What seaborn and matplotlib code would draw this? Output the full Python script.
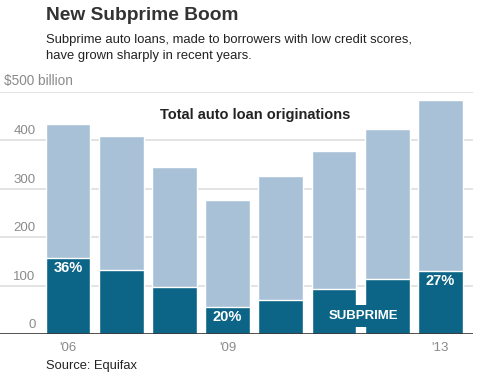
import matplotlib
matplotlib.use('Agg')

import pandas as pd
import matplotlib.pyplot as plt
import seaborn as sns

years = ['2006', '2007', '2008', '2009', '2010', '2011', '2012', '2013']
total = [434, 409, 344, 276, 327, 377, 424, 482]
subprime = [157, 133, 96, 56, 70, 92, 113, 130]
pct_labels = {0: '36%', 3: '20%', 7: '27%'}
xtick_labels = {0: "'06", 3: "'09", 7: "'13"}
yticks = [0, 100, 200, 300, 400]

light = '#a9c1d6'
dark = '#0c6586'
grey = '#8a8a8a'

df = pd.DataFrame({'year': years, 'total': total, 'subprime': subprime})

sns.set_style('white')
plt.rcParams['font.family'] = ['Liberation Sans', 'DejaVu Sans']

fig = plt.figure(figsize=(4.8, 3.79), dpi=100)
ax = fig.add_axes([0, 1 - 334 / 379, 473 / 480, (334 - 91.7) / 379])

sns.barplot(data=df, x='year', y='total', color=light, width=0.84,
            saturation=1, ax=ax, zorder=2)
sns.barplot(data=df, x='year', y='subprime', color=dark, width=0.84,
            saturation=1, ax=ax, zorder=3)

ax.set_xlim(-68 / 53.2, (473 - 68) / 53.2)
ax.set_ylim(0, 500)
for s in ax.spines.values():
    s.set_visible(False)
ax.set_xlabel('')
ax.set_ylabel('')
ax.set_xticks([])
ax.set_yticks([])

for v in yticks[1:] + [500]:
    ax.axhline(v, color='#dedede', lw=1.2, zorder=1)
ax.axhline(0, color='#333333', lw=1.2, zorder=4)

# y labels sit inside the plot, above their gridline
for v in yticks:
    ax.annotate(str(v), xy=(0, v), xycoords=('axes fraction', 'data'),
                xytext=(25.5, 2), textcoords='offset points',
                ha='right', va='bottom', fontsize=9.5, color=grey)

for i, lab in xtick_labels.items():
    ax.annotate(lab, xy=(i, 0), xycoords='data', xytext=(0, -5.5),
                textcoords='offset points', ha='center', va='top',
                fontsize=9.5, color=grey)

for i, lab in pct_labels.items():
    ax.annotate(lab, xy=(i, subprime[i]), xytext=(0, -7.5),
                textcoords='offset points', ha='center', va='center',
                fontsize=10.5, color='white', fontweight='bold', zorder=5)

ax.text(5.555, 37, 'SUBPRIME', ha='center', va='center', fontsize=9.5,
        color='white', fontweight='bold', zorder=6,
        bbox=dict(boxstyle='square,pad=0.4', fc=dark, ec='none'))

ax.text(3.52, 452, 'Total auto loan originations', ha='center', va='center',
        fontsize=10.5, fontweight='bold', color='#222222', zorder=6)

fig.text(4 / 480, 1 - 81 / 379, '$500 billion', ha='left', va='center',
         fontsize=9.8, color=grey)
fig.text(46 / 480, 1 - 16 / 379, 'New Subprime Boom', ha='left', va='center',
         fontsize=13.8, fontweight='bold', color='#333333')
fig.text(46 / 480, 1 - 48 / 379,
         'Subprime auto loans, made to borrowers with low credit scores,\n'
         'have grown sharply in recent years.',
         ha='left', va='center', fontsize=9.4, color='#222222', linespacing=1.4)
fig.text(46 / 480, 1 - 366 / 379, 'Source: Equifax', ha='left', va='center',
         fontsize=9.3, color='#222222')

fig.savefig('out.png', dpi=100)
